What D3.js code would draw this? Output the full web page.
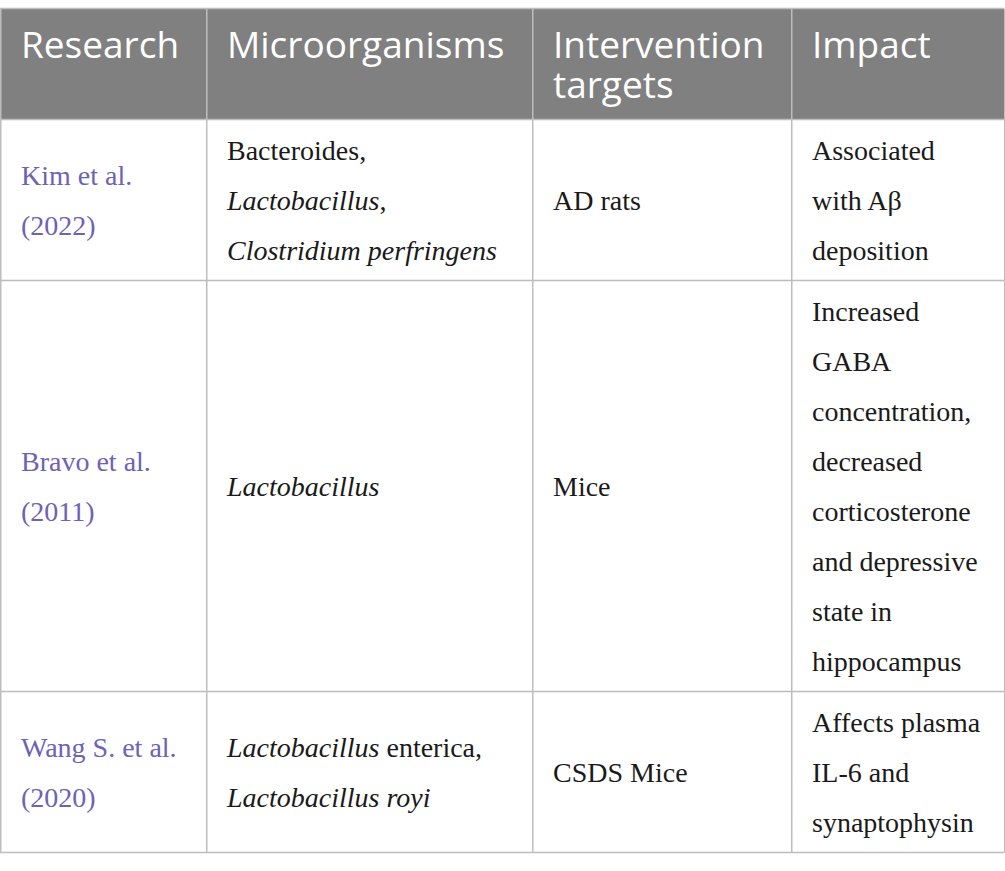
<!DOCTYPE html>
<html>
<head>
<meta charset="utf-8">
<script src="https://cdn.jsdelivr.net/npm/d3@7"></script>
<style>
  body { margin: 0; background: #fff; }
  svg { display: block; }
</style>
</head>
<body>
<div id="chart"></div>
<script>
// Table content: one array per column, each cell is a list of lines.
// Text wrapped in *...* is set in italics.
var headers = [["Research"], ["Microorganisms"], ["Intervention", "targets"], ["Impact"]];

var research = [
    ["Kim et al.", "(2022)"],
    ["Bravo et al.", "(2011)"],
    ["Wang S. et al.", "(2020)"]
];

var microorganisms = [
    ["Bacteroides,", "*Lactobacillus*,", "*Clostridium perfringens*"],
    ["*Lactobacillus*"],
    ["*Lactobacillus* enterica,", "*Lactobacillus royi*"]
];

var targets = [
    ["AD rats"],
    ["Mice"],
    ["CSDS Mice"]
];

var impact = [
    ["Associated", "with A\u03b2", "deposition"],
    ["Increased", "GABA", "concentration,", "decreased", "corticosterone", "and depressive", "state in", "hippocampus"],
    ["Affects plasma", "IL-6 and", "synaptophysin"]
];

var columnEdges = [0, 206, 532, 791, 1004];

var vis = {};
vis.width = 1005;
vis.height = 871;
vis.top = 8.5;
vis.headerH = 111;
vis.lineH = 50;
vis.rowPad = 11;
vis.padLeft = 21;

vis.svg = d3.select("#chart").append("svg")
    .attr("width", vis.width)
    .attr("height", vis.height);

var rows = research.map(function(d, i) {
    return [d, microorganisms[i], targets[i], impact[i]];
});

// row heights from the tallest cell
var rowH = rows.map(function(r) {
    return d3.max(r, function(c) { return c.length; }) * vis.lineH + vis.rowPad;
});
var rowTops = [vis.top + vis.headerH];
rowH.forEach(function(h, i) { rowTops.push(rowTops[i] + h); });

var x = d3.scaleOrdinal()
    .domain(d3.range(4))
    .range(columnEdges.slice(0, 4));

// header background
vis.svg.append("rect")
    .attr("x", 0)
    .attr("y", vis.top)
    .attr("width", columnEdges[4])
    .attr("height", vis.headerH)
    .attr("fill", "#808080");

// header text
var head = vis.svg.append("g").selectAll("text")
    .data(headers)
    .enter().append("text")
    .attr("x", function(d, i) { return x(i) + vis.padLeft; })
    .attr("y", vis.top + 49.5)
    .attr("font-family", "'Open Sans', 'Noto Sans', sans-serif")
    .attr("font-size", 37)
    .attr("fill", "#ffffff");

head.selectAll("tspan")
    .data(function(d) { return d; })
    .enter().append("tspan")
    .attr("x", function() { return d3.select(this.parentNode).attr("x"); })
    .attr("dy", function(d, i) { return i === 0 ? 0 : 40; })
    .text(function(d) { return d; });

// body cells
var cells = [];
rows.forEach(function(r, ri) {
    r.forEach(function(c, ci) {
        cells.push({ lines: c, row: ri, col: ci });
    });
});

var body = vis.svg.append("g").selectAll("text")
    .data(cells)
    .enter().append("text")
    .attr("font-family", "'Liberation Serif', 'Times New Roman', serif")
    .attr("font-size", 28)
    .attr("fill", function(d) { return d.col === 0 ? "#6c63b5" : "#1a1a1a"; });

body.each(function(d) {
    var t = d3.select(this);
    var offset = (rowH[d.row] - d.lines.length * vis.lineH) / 2;
    d.lines.forEach(function(line, li) {
        var y = rowTops[d.row] + offset + li * vis.lineH + 34.5;
        var parts = line.split("*");
        parts.forEach(function(p, pi) {
            if (p === "") return;
            var s = t.append("tspan").text(p)
                .attr("font-style", pi % 2 === 1 ? "italic" : "normal");
            if (pi === 0 || (pi === 1 && parts[0] === "")) {
                s.attr("x", x(d.col) + vis.padLeft).attr("y", y);
            }
        });
    });
});

// grid lines
var bottom = rowTops[rowTops.length - 1];
var grid = vis.svg.append("g")
    .attr("stroke", "#bdbdbd")
    .attr("stroke-width", 1.5);

grid.selectAll("line.h")
    .data([vis.top].concat(rowTops))
    .enter().append("line")
    .attr("class", "h")
    .attr("x1", 0)
    .attr("x2", columnEdges[4])
    .attr("y1", function(d) { return d; })
    .attr("y2", function(d) { return d; });

grid.selectAll("line.v")
    .data(columnEdges)
    .enter().append("line")
    .attr("class", "v")
    .attr("x1", function(d) { return d + 0.75; })
    .attr("x2", function(d) { return d + 0.75; })
    .attr("y1", vis.top)
    .attr("y2", bottom);
</script>
</body>
</html>
